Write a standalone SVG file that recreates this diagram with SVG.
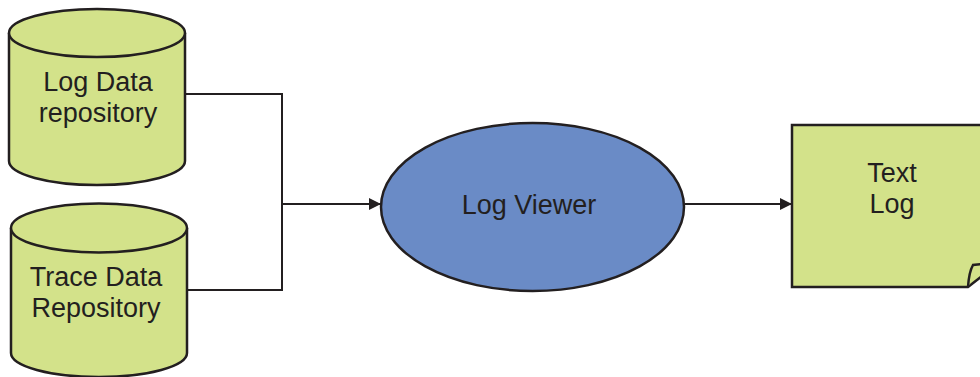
<svg xmlns="http://www.w3.org/2000/svg" width="980" height="377" viewBox="0 0 980 377">
<style>
.shape{fill:#d3e28a;stroke:#231f20;stroke-width:2.5}
.blue{fill:#6a8bc6;stroke:#231f20;stroke-width:2.5}
.conn{fill:none;stroke:#231f20;stroke-width:2}
text{font-family:"Liberation Sans",Arial,sans-serif;font-size:27px;fill:#231f20;text-anchor:middle}
</style>
<defs>
<marker id="arr" viewBox="0 0 10 10" refX="10" refY="5" markerWidth="6" markerHeight="6" markerUnits="strokeWidth" orient="auto">
<path d="M0,0 L10,5 L0,10 Z" fill="#231f20"/>
</marker>
</defs>
<rect width="980" height="377" fill="#fff"/>
<g id="connectors">
<polyline class="conn" points="185,94 282,94 282,290 187,290"/>
<line class="conn" x1="282" y1="204" x2="381" y2="204" marker-end="url(#arr)"/>
<line class="conn" x1="685" y1="204" x2="792" y2="204" marker-end="url(#arr)"/>
</g>
<g id="log-data-repository">
<path class="shape" d="M9,33 L9,161 A88,24 0 0 0 185,161 L185,33"/>
<ellipse class="shape" cx="97" cy="33" rx="88" ry="24"/>
<text x="98" y="91">Log Data</text>
<text x="98" y="122">repository</text>
</g>
<g id="trace-data-repository">
<path class="shape" d="M11,228 L11,353 A88,24 0 0 0 187,353 L187,228"/>
<ellipse class="shape" cx="99" cy="228" rx="88" ry="24.5"/>
<text x="96" y="286">Trace Data</text>
<text x="96" y="317">Repository</text>
</g>
<g id="log-viewer">
<ellipse class="blue" cx="532.5" cy="207" rx="151.5" ry="84"/>
<text x="529" y="214">Log Viewer</text>
</g>
<g id="text-log">
<path class="shape" d="M982,125 L792,125 L792,287 L968,287 L982,276"/>
<path class="shape" d="M968,287 Q969,272 973,265 L982,264"/>
<text x="892" y="182">Text</text>
<text x="892" y="213">Log</text>
</g>
</svg>
